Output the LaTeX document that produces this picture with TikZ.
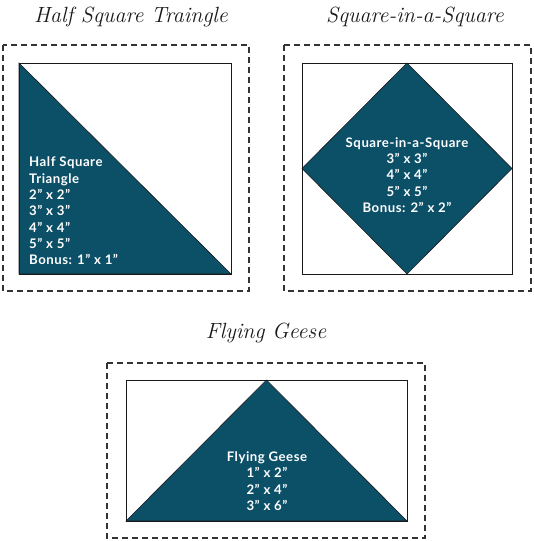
\documentclass[tikz,border=0pt]{standalone}
\usepackage{fontspec}
\newfontfamily\qltsans[LetterSpace=4]{Lato}
\definecolor{qltteal}{HTML}{0C5068}
\definecolor{qltink}{HTML}{1A1A1A}
\definecolor{qltdash}{HTML}{333333}
\tikzset{
  qlt/.style={x=1pt, y=-1pt},
  qltcut/.style={draw=qltdash, dash pattern=on 6pt off 4pt, line width=1.1pt},
  qltblock/.style={draw=qltink, line width=1pt},
  qltpiece/.style={fill=qltteal, draw=qltink, line width=0.6pt},
  qlttxt/.style={font=\qltsans\bfseries\fontsize{13.2}{16.3}\selectfont, text=white, inner sep=0pt},
  qlttitle/.style={font=\itshape\fontsize{22}{24}\selectfont, text=qltink, inner sep=0pt},
}

\begin{document}
\begin{tikzpicture}[qlt]
  \useasboundingbox (0,0) rectangle (533,541);
  % titles
  \node[qlttitle] (hsttitle) at (131,17) {Half Square Traingle};
  \node[qlttitle] (sqtitle) at (415,17) {Square-in-a-Square};
  \node[qlttitle] (fgtitle) at (266,333) {Flying Geese};
  % half square triangle
  \draw[qltcut] (3,45) rectangle (249,291);
  \fill[qltpiece] (19,63) -- (231,274) -- (19,274) -- cycle;
  \draw[qltblock] (19,63) rectangle (231,274);
  \node[qlttxt, anchor=west, align=left] (hsttxt) at (29,211) {%
    Half Square\\Triangle\\2” x 2”\\3” x 3”\\4” x 4”\\5” x 5”\\Bonus: 1” x 1”};
  % square in a square
  \draw[qltcut] (284,45) rectangle (531,291);
  \fill[qltpiece] (407,63) -- (512,168.5) -- (407,274) -- (302,168.5) -- cycle;
  \draw[qltblock] (302,63) rectangle (512,274);
  \node[qlttxt, align=center] (sqtxt) at (407,175) {%
    Square-in-a-Square\\3” x 3”\\4” x 4”\\5” x 5”\\Bonus: 2” x 2”};
  % flying geese
  \draw[qltcut] (107,363) rectangle (425,538);
  \fill[qltpiece] (126,521) -- (266.5,380) -- (407,521) -- cycle;
  \draw[qltblock] (126,380) rectangle (407,521);
  \node[qlttxt, align=center] (fgtxt) at (267,481) {%
    Flying Geese\\1” x 2”\\2” x 4”\\3” x 6”};
\end{tikzpicture}
\end{document}
